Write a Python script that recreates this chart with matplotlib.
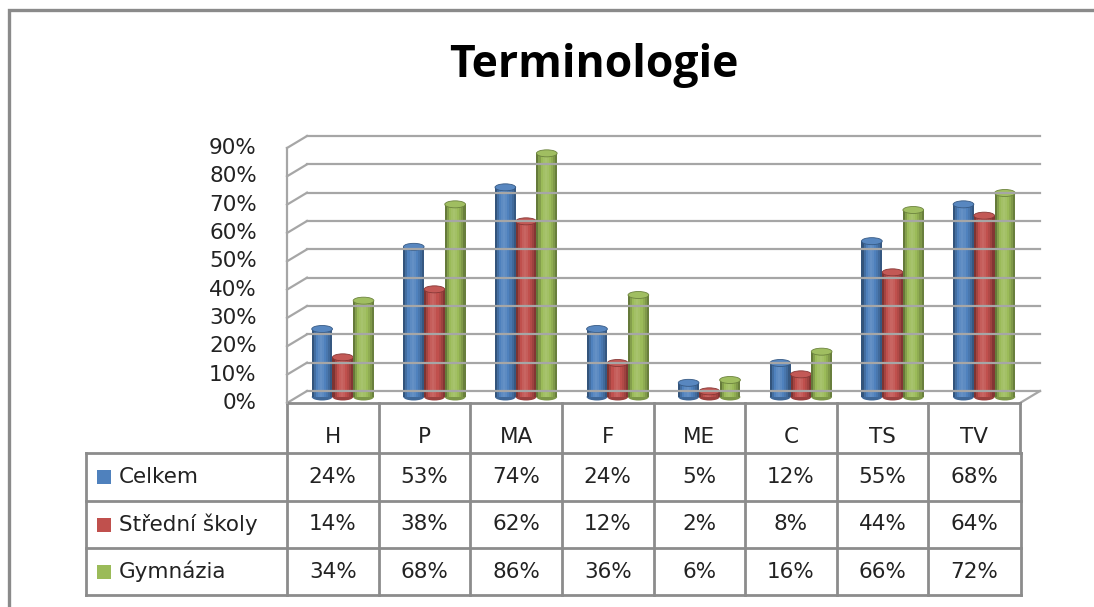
import matplotlib
matplotlib.use("Agg")
import matplotlib.pyplot as plt
import matplotlib.transforms as mtransforms
from matplotlib.patches import Ellipse, Rectangle
import numpy as np

categories = ["H", "P", "MA", "F", "ME", "C", "TS", "TV"]
series = ["Celkem", "Střední školy", "Gymnázia"]
celkem = [24, 53, 74, 24, 5, 12, 55, 68]
stredni = [14, 38, 62, 12, 2, 8, 44, 64]
gymnazia = [34, 68, 86, 36, 6, 16, 66, 72]
yticks = [0, 10, 20, 30, 40, 50, 60, 70, 80, 90]

values = [celkem, stredni, gymnazia]
colors = ["#4F81BD", "#C0504D", "#9BBB59"]

W, H = 1094, 607
FONT = "DejaVu Sans"
FS = 15.5
TXT = "#222222"
GRID = "#a6a6a6"
TABLE = "#8c8c8c"

fig = plt.figure(figsize=(W / 100, H / 100), dpi=100)

# background axes in pixel units for frame, title and data table
bg = fig.add_axes([0, 0, 1, 1])
bg.set_xlim(0, W)
bg.set_ylim(H, 0)
bg.axis("off")

# main plotting axes = front plane of the 3d box
x0, x1 = 287, 1020
y0, y90 = 403, 148
ax = fig.add_axes([x0 / W, (H - y0) / H, (x1 - x0) / W, (y0 - y90) / H])
ax.set_xlim(0, len(categories))
ax.set_ylim(0, 90)
ax.axis("off")

back = mtransforms.offset_copy(ax.transData, fig=fig, x=20, y=12, units="dots")
mid = mtransforms.offset_copy(ax.transData, fig=fig, x=10, y=6, units="dots")

# back wall gridlines + left wall diagonals
for t in yticks:
    ax.plot([0, len(categories)], [t, t], color=GRID, lw=1.6, transform=back, clip_on=False)
    fx, fy = ax.transData.transform((0, t))
    bx, by = back.transform((0, t))
    bg.plot([fx, bx], [H - fy, H - by], color=GRID, lw=1.6)
ax.plot([0, 0], [0, 90], color=GRID, lw=1.6, clip_on=False)
# floor right edge
fx, fy = ax.transData.transform((len(categories), 0))
bx, by = back.transform((len(categories), 0))
bg.plot([fx, bx], [H - fy, H - by], color=GRID, lw=1.6)

# y labels
for t in yticks:
    ax.text(-0.33, t, f"{t}%", ha="right", va="center", fontsize=FS,
            family=FONT, color=TXT, clip_on=False)


def shade(hexcol, f):
    c = np.array(matplotlib.colors.to_rgb(hexcol))
    if f >= 0:
        c = c + (1 - c) * f
    else:
        c = c * (1 + f)
    return np.clip(c, 0, 1)


# cylinder columns
bw = 0.226
nstrip = 10
profile = [-0.35, -0.15, 0.0, 0.08, 0.12, 0.08, 0.0, -0.08, -0.18, -0.32]
cap_h = 7 * 90 / (y0 - y90)
xs = np.arange(len(categories)) + 0.5
for k, (vals, col) in enumerate(zip(values, colors)):
    xc = xs + (k - 1) * bw
    for j in range(len(categories)):
        ax.add_patch(Ellipse((xc[j], 0), bw, cap_h, facecolor=shade(col, -0.2),
                             edgecolor="none", transform=mid, clip_on=False))
    sw = bw / nstrip
    for s in range(nstrip):
        ax.bar(xc - bw / 2 + (s + 0.5) * sw, vals, width=sw * 1.02,
               color=shade(col, profile[s]), linewidth=0, transform=mid, clip_on=False)
    for j in range(len(categories)):
        ax.add_patch(Ellipse((xc[j], vals[j]), bw, cap_h, facecolor=shade(col, 0.05),
                             edgecolor=shade(col, -0.3), lw=0.6, transform=mid, clip_on=False))

# title
bg.text(594, 77, "Terminologie", ha="center", va="baseline", fontsize=32,
        fontweight="bold", family="Open Sans", color="black")

# outer frame
bg.plot([8.5, 8.5, W + 5], [H + 5, 10, 10], color="#8a8a8a", lw=2.4, solid_joinstyle="miter")

# data table
cw = (x1 - x0) / len(categories)
head_b = 453
rows = [453, 501, 548, 595]
tl, tr = 86, 1021
bg.plot([x0, x1], [y0, y0], color=TABLE, lw=2)
for i in range(len(categories) + 1):
    bg.plot([x0 + i * cw, x0 + i * cw], [y0, head_b], color=TABLE, lw=2)
for r in rows:
    bg.plot([tl, tr], [r, r], color=TABLE, lw=2)
for xv in [tl] + [x0 + i * cw for i in range(len(categories))] + [tr]:
    bg.plot([xv, xv], [rows[0], rows[-1]], color=TABLE, lw=2)

for i, c in enumerate(categories):
    bg.text(x0 + (i + 0.5) * cw, 437, c, ha="center", va="center", fontsize=FS,
            family=FONT, color=TXT)

for r, (name, vals, col) in enumerate(zip(series, values, colors)):
    yc = (rows[r] + rows[r + 1]) / 2
    bg.add_patch(Rectangle((97, yc - 7), 14, 14, facecolor=col, edgecolor="none"))
    bg.text(119, yc, name, ha="left", va="center", fontsize=FS, family=FONT, color=TXT)
    for i, v in enumerate(vals):
        bg.text(x0 + (i + 0.5) * cw, yc, f"{v}%", ha="center", va="center",
                fontsize=FS, family=FONT, color=TXT)

fig.savefig("out.png", dpi=100)
